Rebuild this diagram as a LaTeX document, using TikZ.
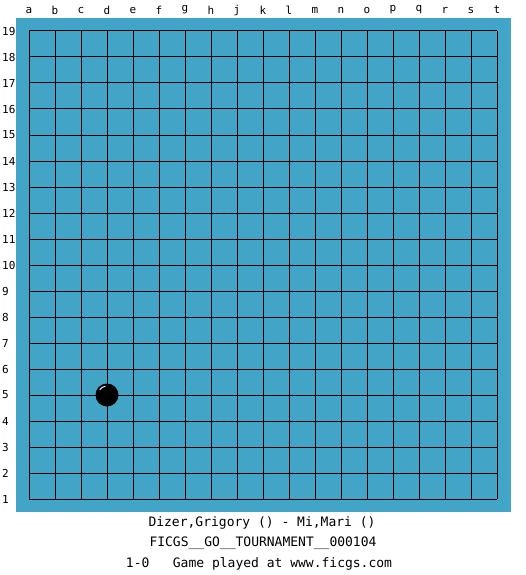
\documentclass[tikz,border=0pt]{standalone}
\usepackage{fontspec}
\setmonofont{DejaVu Sans Mono}
\definecolor{board}{RGB}{66,165,200}
\begin{document}
\begin{tikzpicture}[x=1pt,y=-1pt,
  lbl/.style={font=\ttfamily\fontsize{11}{11}\selectfont, inner sep=0pt},
  info/.style={font=\ttfamily\fontsize{13}{13}\selectfont, inner sep=0pt},
  gridline/.style={line width=1pt, black}]
\useasboundingbox[fill=white] (0,0) rectangle (525,575);
\fill[board] (16,18) rectangle (511,512);
\foreach \i in {0,...,18}{
  \draw[gridline] (29+26*\i,31) -- (29+26*\i,499);
  \draw[gridline] (29,31+26*\i) -- (497,31+26*\i);
}
\foreach \l [count=\i from 0] in {a,b,c,d,e,f,g,h,j,k,l,m,n,o,p,q,r,s,t}{
  \node[lbl] (col\l) at (29+26*\i,10) {\l};
}
\foreach \n in {1,...,19}{
  \node[lbl, anchor=west] (row\n) at (2,499-26*\n+26) {\n};
}
\node[circle, fill=black, minimum size=23pt, inner sep=0pt] (stone) at (107,395) {};
\draw[white, line width=0.9pt] (stone.center) ++(-145:9) arc (-145:-100:9);
\node[info] (players) at (262,523) {Dizer,Grigory () - Mi,Mari ()};
\node[info] (event) at (263,543) {FICGS\_\_GO\_\_TOURNAMENT\_\_000104};
\node[info] (result) at (259,564) {1-0\ \ \ Game played at www.ficgs.com};
\end{tikzpicture}
\end{document}
